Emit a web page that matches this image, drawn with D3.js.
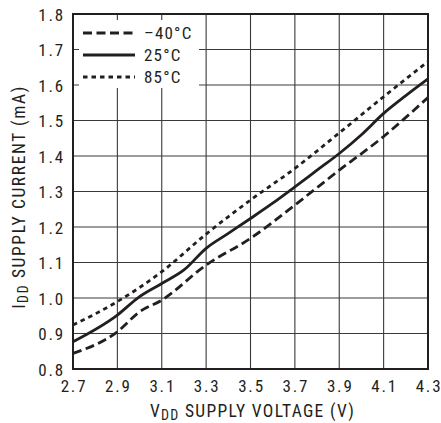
<!DOCTYPE html>
<html>
<head>
<meta charset="utf-8">
<script src="https://cdn.jsdelivr.net/npm/d3@7"></script>
<style>
  body { margin: 0; background: #fff; }
  text { font-family: "Liberation Sans Narrow", "Roboto Condensed", "Liberation Sans", sans-serif; fill: #231f20; }
</style>
</head>
<body>
<svg id="chart" width="441" height="423"></svg>
<script>
const xTicks = [2.7, 2.9, 3.1, 3.3, 3.5, 3.7, 3.9, 4.1, 4.3];
const yTicks = [0.8, 0.9, 1.0, 1.1, 1.2, 1.3, 1.4, 1.5, 1.6, 1.7, 1.8];

const voltsM40 = [2.7, 2.9, 3.0, 3.1, 3.3, 3.5, 3.7, 3.9, 4.1, 4.3];
const currM40  = [0.844, 0.905, 0.961, 0.994, 1.093, 1.168, 1.262, 1.36, 1.455, 1.565];

const volts25 = [2.7, 2.9, 3.0, 3.1, 3.2, 3.3, 3.4, 3.5, 3.6, 3.7, 3.8, 3.9, 4.0, 4.1, 4.2, 4.3];
const curr25  = [0.877, 0.952, 1.004, 1.041, 1.079, 1.14, 1.182, 1.224, 1.267, 1.313, 1.36, 1.407, 1.46, 1.52, 1.57, 1.617];

const volts85 = [2.7, 2.8, 2.9, 3.1, 3.3, 3.5, 3.7, 3.9, 4.1, 4.3];
const curr85  = [0.924, 0.955, 0.99, 1.074, 1.18, 1.276, 1.365, 1.465, 1.567, 1.666];

const seriesNames = ["\u201340\u00b0C", "25\u00b0C", "85\u00b0C"];
const dashes = ["9,4.5", null, "4.5,4"];

const svg = d3.select("#chart");
const M = { left: 73, top: 14, right: 13, bottom: 54 };
const W = 441 - M.left - M.right;
const H = 423 - M.top - M.bottom;

const x = d3.scaleLinear().domain([2.7, 4.3]).range([0, W]);
const y = d3.scaleLinear().domain([0.8, 1.8]).range([H, 0]);

const g = svg.append("g").attr("transform", `translate(${M.left},${M.top})`);

// grid
g.append("g").selectAll("line").data(xTicks.slice(1, -1)).join("line")
  .attr("x1", d => x(d)).attr("x2", d => x(d)).attr("y1", 0).attr("y2", H)
  .attr("stroke", "#3a3a3a").attr("stroke-width", 1.1);
g.append("g").selectAll("line").data(yTicks.slice(1, -1)).join("line")
  .attr("y1", d => y(d)).attr("y2", d => y(d)).attr("x1", 0).attr("x2", W)
  .attr("stroke", "#3a3a3a").attr("stroke-width", 1.1);

// legend background knocks out grid
g.append("rect").attr("x", 6).attr("y", 6).attr("width", 120).attr("height", 68).attr("fill", "#fff");

// frame
g.append("rect").attr("width", W).attr("height", H)
  .attr("fill", "none").attr("stroke", "#231f20").attr("stroke-width", 2);

// tick labels
const fmt = d3.format(".1f");
const xAxis = g.append("g").attr("transform", `translate(0,${H})`)
  .call(d3.axisBottom(x).tickValues(xTicks).tickFormat(fmt).tickSize(0).tickPadding(11));
const yAxis = g.append("g")
  .call(d3.axisLeft(y).tickValues(yTicks).tickFormat(fmt).tickSize(0).tickPadding(8));
[xAxis, yAxis].forEach(a => {
  a.select(".domain").remove();
  a.selectAll("text").attr("font-size", 17).attr("fill", "#231f20")
    .attr("letter-spacing", 1.8)
    .attr("font-family", "'Liberation Sans Narrow', sans-serif");
});
yAxis.selectAll("text").attr("dy", "0.36em");
xAxis.selectAll("text").attr("dy", "0.72em").attr("dx", 0.5);

// curves
const line = d3.line().x(d => x(d[0])).y(d => y(d[1])).curve(d3.curveMonotoneX);
const data = [
  d3.zip(voltsM40, currM40),
  d3.zip(volts25, curr25),
  d3.zip(volts85, curr85)
];
data.forEach((d, i) => {
  g.append("path").datum(d).attr("d", line)
    .attr("fill", "none").attr("stroke", "#231f20").attr("stroke-width", 2.8)
    .attr("stroke-dasharray", dashes[i]);
});

// legend
const leg = g.append("g").attr("transform", "translate(10,19)");
seriesNames.forEach((name, i) => {
  leg.append("line").attr("x1", 0).attr("x2", 52).attr("y1", i * 22).attr("y2", i * 22)
    .attr("stroke", "#231f20").attr("stroke-width", 2.8).attr("stroke-dasharray", dashes[i]);
  leg.append("text").attr("x", 61).attr("y", i * 22).attr("dy", "0.36em")
    .attr("font-size", 17).attr("letter-spacing", 1.2).text(name);
});

// axis titles
const xt = svg.append("text").attr("x", M.left + W / 2 + 2).attr("y", 417)
  .attr("text-anchor", "middle").attr("font-size", 17.5).attr("letter-spacing", 1.3);
xt.append("tspan").text("V");
xt.append("tspan").attr("font-size", 14).attr("dy", 3).text("DD");
xt.append("tspan").attr("dy", -3).text(" SUPPLY VOLTAGE (V)");

const yt = svg.append("text")
  .attr("transform", `translate(25,197) rotate(-90)`)
  .attr("text-anchor", "middle").attr("font-size", 17.5).attr("letter-spacing", 1.6);
yt.append("tspan").text("I");
yt.append("tspan").attr("font-size", 14).attr("dy", 3).text("DD");
yt.append("tspan").attr("dy", -3).text(" SUPPLY CURRENT (mA)");
</script>
</body>
</html>
